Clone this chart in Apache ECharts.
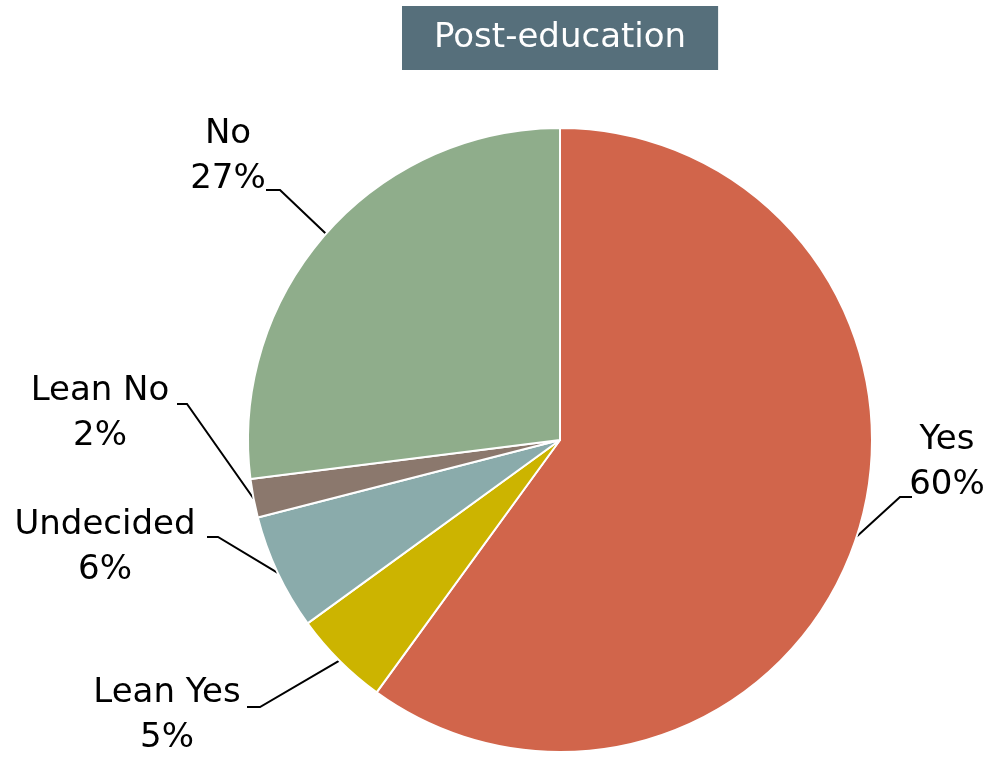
<!DOCTYPE html>
<html>
<head>
<meta charset="utf-8">
<script src="https://cdn.jsdelivr.net/npm/echarts@6/dist/echarts.min.js"></script>
<style>
html, body { margin: 0; padding: 0; background: #fff; }
#chart { width: 983px; height: 761px; }
</style>
</head>
<body>
<div id="chart"></div>
<script>
// answers, clockwise from 12 o'clock
var categories = ['Yes', 'Lean Yes', 'Undecided', 'Lean No', 'No'];
var shares = [60, 5, 6, 2, 27];
var sliceColors = ['#d1654b', '#ccb400', '#8aabab', '#8b786d', '#8fad8b'];

// where each label sits and where its leader line bends (layout only)
var labelSpots = [
	{x: 947, y: 463, elbow: [900, 497], end: [912, 497]},
	{x: 167, y: 716, elbow: [260, 707], end: [247, 707]},
	{x: 105, y: 548, elbow: [218, 537], end: [207, 537]},
	{x: 100, y: 414, elbow: [187, 404], end: [177, 404]},
	{x: 228, y: 157, elbow: [280, 190], end: [266, 190]}
];

var pieData = [];
for (var i = 0; i < categories.length; i++) {
	pieData.push({
		name: categories[i],
		value: shares[i],
		itemStyle: {color: sliceColors[i]}
	});
}

var myChart = echarts.init(document.getElementById('chart'));
var option = {
	animation: false,
	title: {
		text: 'Post-education',
		left: 402,
		top: 6,
		backgroundColor: '#566f7b',
		padding: [12, 32, 12, 32],
		textStyle: {
			color: '#fff',
			fontFamily: 'DejaVu Sans',
			fontWeight: 'normal',
			fontSize: 34,
			lineHeight: 40
		}
	},
	series: [
		{
			type: 'pie',
			center: [560, 440],
			radius: 312,
			startAngle: 90,
			clockwise: true,
			data: pieData,
			itemStyle: {
				borderColor: '#fff',
				borderWidth: 2
			},
			label: {
				show: true,
				position: 'outside',
				formatter: '{b}\n{d}%',
				color: '#000',
				fontFamily: 'DejaVu Sans',
				fontSize: 34,
				lineHeight: 45,
				align: 'center'
			},
			labelLine: {
				show: true,
				length: 20,
				length2: 10,
				lineStyle: {color: '#000', width: 2}
			},
			labelLayout: function(params) {
				var s = labelSpots[params.dataIndex];
				var start = params.labelLinePoints ? params.labelLinePoints[0] : s.elbow;
				return {
					x: s.x,
					y: s.y,
					align: 'center',
					verticalAlign: 'middle',
					labelLinePoints: [start, s.elbow, s.end]
				};
			}
		}
	]
};
myChart.setOption(option);
</script>
</body>
</html>
